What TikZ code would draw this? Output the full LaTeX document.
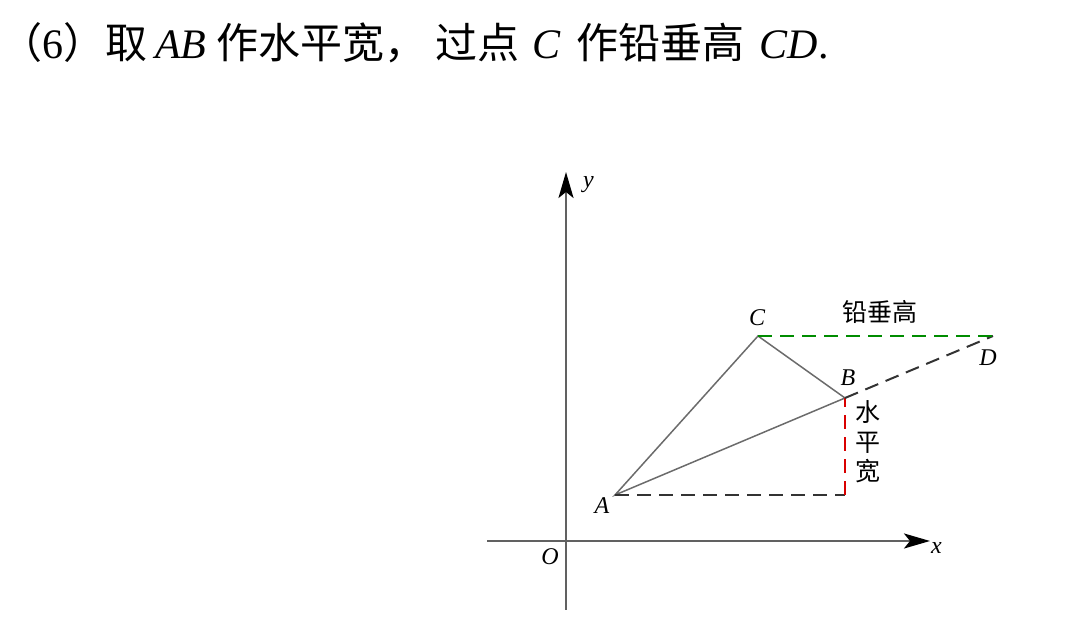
\documentclass[tikz,border=0pt]{standalone}
\usepackage{fontspec}
\setmainfont{Liberation Serif}
\newfontfamily\cjk{Noto Sans CJK SC}
\usetikzlibrary{arrows.meta}
\tikzset{
  axis/.style={line width=2.4pt, draw=black!62, -{Stealth[length=26pt,width=15pt,inset=6pt,black]}},
  side/.style={line width=1.5pt, draw=black!58},
  guide/.style={line width=2pt, dash pattern=on 14pt off 8pt},
  lbl/.style={font=\fontsize{24}{24}\selectfont\itshape, inner sep=0pt}
}
\newcommand{\zh}[1]{{\cjk #1}}
\begin{document}
\begin{tikzpicture}[x=1pt,y=1pt]
\useasboundingbox (0,0) rectangle (1080,632);
\node[anchor=west, inner sep=0pt, font=\fontsize{42}{46}\selectfont] (title) at (0,589)
  {\zh{（}6\zh{）取}\hspace{8pt}\textit{AB}\hspace{10pt}\zh{作水平宽，}\hspace{9pt}\zh{过点}\hspace{13pt}\textit{C}\hspace{16pt}\zh{作铅垂高}\hspace{15pt}\textit{CD}.};
% axes
\coordinate (O) at (566,91);
\draw[axis] (487,91) -- (930,91) node[lbl, anchor=west, xshift=0pt, yshift=-7pt] (xl) {x};
\draw[axis] (566,22) -- (566,460) node[lbl, anchor=west, xshift=16pt, yshift=-13pt] (yl) {y};
\node[lbl] (ol) at (550,75) {O};
% triangle
\coordinate (A) at (615,137);
\coordinate (B) at (845,234);
\coordinate (C) at (758,296);
\coordinate (D) at (993,296);
\coordinate (E) at (845,137);
\draw[side] (A) -- (B) -- (C) -- cycle;
\draw[guide, draw=black!80] (A) -- (E);
\draw[guide, draw=red!85!black] (E) -- (B);
\draw[guide, draw=black!80] (B) -- (D);
\draw[guide, draw=green!55!black] (C) -- (D);
\node[lbl] (al) at (602,126) {A};
\node[lbl] (bl) at (848,254) {B};
\node[lbl] (cl) at (757,314) {C};
\node[lbl] (dl) at (988,274) {D};
\node[font=\cjk\fontsize{25}{29.5}\selectfont, inner sep=0pt] (h) at (880,320) {铅垂高};
\node[font=\cjk\fontsize{25}{29.5}\selectfont, inner sep=0pt, align=center] (w) at (868,190) {水\\平\\宽};
\end{tikzpicture}
\end{document}
